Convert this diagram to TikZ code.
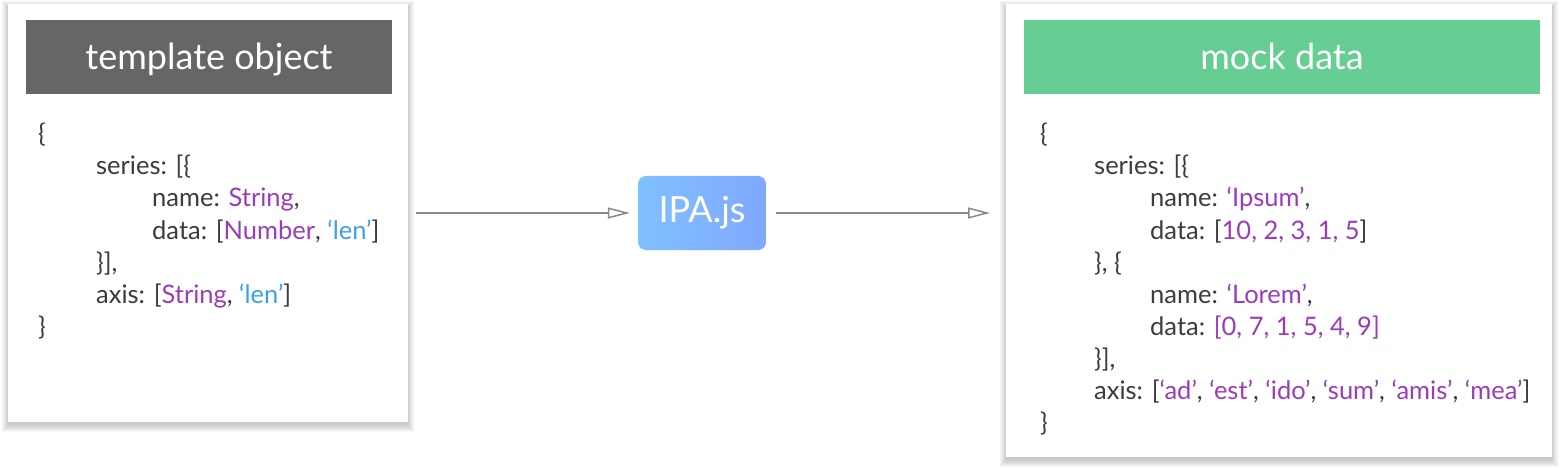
\documentclass[tikz,border=0pt]{standalone}
\usepackage{fontspec}
\setmainfont{Lato}
\usetikzlibrary{arrows.meta,calc}
\definecolor{codetext}{HTML}{3C3C3C}
\definecolor{pu}{HTML}{9B3DB8}
\definecolor{bl}{HTML}{3BA2E6}
\definecolor{hdgrey}{HTML}{666666}
\definecolor{hdgreen}{HTML}{66CD93}
\definecolor{ipaL}{HTML}{80C0FF}
\definecolor{ipaR}{HTML}{80A8FF}
\definecolor{arrowgrey}{HTML}{8A8A8A}
\newcommand{\pu}[1]{\textcolor{pu}{#1}}
\newcommand{\bl}[1]{\textcolor{bl}{#1}}
\begin{document}
\begin{tikzpicture}[x=1pt,y=-1pt,
  card/.style={fill=white, inner sep=0pt, anchor=north west},
  header/.style={inner sep=0pt, anchor=north west},
  htext/.style={text=white, font=\fontsize{36}{40}\selectfont, inner sep=0pt, anchor=base},
  code/.style={text=codetext, font=\fontsize{25.5}{28}\selectfont, inner sep=0pt, anchor=base west},
  ipabox/.style={rounded corners=8pt, left color=ipaL, right color=ipaR, draw=none, inner sep=0pt,
    minimum width=128pt, minimum height=74pt, text=white, font=\fontsize{36}{40}\selectfont},
  flow/.style={draw=arrowgrey, line width=2pt, -{Triangle[open, length=22pt, width=11pt, line width=1.5pt]}},
]
\useasboundingbox (0,0) rectangle (1564,468);
\fill[white] (0,0) rectangle (1564,468);

% shadows
\foreach \s in {0,1,...,8} {
  \fill[black, opacity=0.024] (8-\s*0.8, 4+3-\s*0.8) rectangle (408+\s*0.8, 422+3+\s*0.9);
  \fill[black, opacity=0.024] (1006-\s*0.8, 4+3-\s*0.8) rectangle (1552+\s*0.8, 457+3+\s*0.9);
}

% left card
\node[card, minimum width=400pt, minimum height=418pt] (card1) at (8,4) {};
\node[header, fill=hdgrey, minimum width=366pt, minimum height=74pt] (hd1) at (26,20) {};
\node[htext] (ht1) at (209,70) {template object};

\node[code] (a1) at (38,143) {\{};
\node[code] (a2) at (96,175) {series: [\{};
\node[code] (a3) at (152,207) {name: \pu{String},};
\node[code] (a4) at (152,239) {data: [\pu{Number}, \bl{‘len’}]};
\node[code] (a5) at (96,271) {\}],};
\node[code] (a6) at (96,303) {axis: [\pu{String}, \bl{‘len’}]};
\node[code] (a7) at (38,335) {\}};

% middle
\node[ipabox] (ipa) at (702,213) {IPA.js};

% right card
\node[card, minimum width=546pt, minimum height=453pt] (card2) at (1006,4) {};
\node[header, fill=hdgreen, minimum width=516pt, minimum height=74pt] (hd2) at (1024,20) {};
\node[htext] (ht2) at (1282,70) {mock data};

\node[code] (b1) at (1040,143) {\{};
\node[code] (b2) at (1094,175) {series: [\{};
\node[code] (b3) at (1150,207) {name: \pu{‘Ipsum’},};
\node[code] (b4) at (1150,239) {data: [\pu{10, 2, 3, 1, 5}]};
\node[code] (b5) at (1094,271) {\}, \{};
\node[code] (b6) at (1150,303) {name: \pu{‘Lorem’},};
\node[code] (b7) at (1150,335) {data: \pu{[0, 7, 1, 5, 4, 9]}};
\node[code] (b8) at (1094,367) {\}],};
\node[code] (b9) at (1094,399) {axis: [\pu{‘ad’}, \pu{‘est’}, \pu{‘ido’}, \pu{‘sum’}, \pu{‘amis’}, \pu{‘mea’}]};
\node[code] (b10) at (1040,431) {\}};

% connectors
\coordinate (s1) at (card1.east |- ipa.west);
\coordinate (s2) at (card2.west |- ipa.east);
\draw[flow, shorten <=8pt, shorten >=8pt] (s1) -- (ipa.west);
\draw[flow, shorten <=10pt, shorten >=16pt] (ipa.east) -- (s2);
\end{tikzpicture}
\end{document}
